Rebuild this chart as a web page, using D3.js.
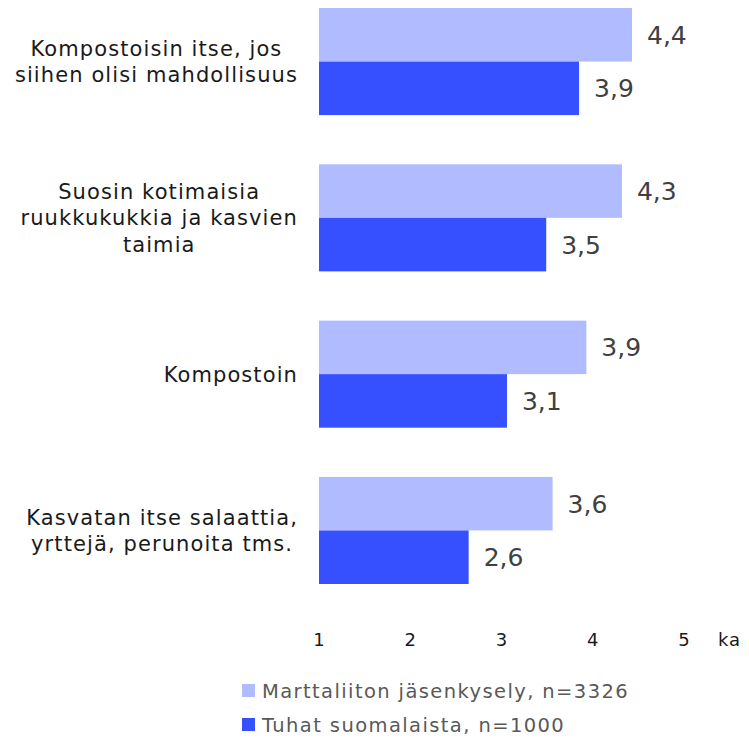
<!DOCTYPE html>
<html>
<head>
<meta charset="utf-8">
<script src="https://cdn.jsdelivr.net/npm/d3@7"></script>
<style>
  body { margin: 0; background: #fff; }
  text { font-family: "DejaVu Sans", sans-serif; }
</style>
</head>
<body>
<div id="chart"></div>
<script>
const categories = [
  ["Kompostoisin itse, jos", "siihen olisi mahdollisuus"],
  ["Suosin kotimaisia", "ruukkukukkia ja kasvien", "taimia"],
  ["Kompostoin"],
  ["Kasvatan itse salaattia,", "yrttejä, perunoita tms."]
];
const seriesNames = ["Marttaliiton jäsenkysely, n=3326", "Tuhat suomalaista, n=1000"];
const marttaliitto = [4.43, 4.32, 3.93, 3.56];
const tuhat = [3.85, 3.49, 3.06, 2.64];
const ticks = [1, 2, 3, 4, 5];
const colors = ["#b0bcff", "#3750ff"];

const width = 749, height = 738;
const svg = d3.select("#chart").append("svg")
  .attr("width", width)
  .attr("height", height);

const x = d3.scaleLinear().domain([1, 5]).range([319, 684]);
const y = d3.scaleBand().domain(d3.range(categories.length)).range([8, 584]).paddingInner(0.315);
const ySub = d3.scaleBand().domain([0, 1]).range([0, y.bandwidth()]);

const fmt = v => (Math.round(v * 10) / 10).toFixed(1).replace(".", ",");

const rows = categories.map((c, i) => ({ i, vals: [marttaliitto[i], tuhat[i]] }));

const groups = svg.selectAll("g.grp")
  .data(rows)
  .enter().append("g")
  .attr("transform", d => `translate(0,${y(d.i)})`);

groups.selectAll("rect")
  .data(d => d.vals.map((v, s) => ({ v, s })))
  .enter().append("rect")
  .attr("x", x(1))
  .attr("y", d => ySub(d.s))
  .attr("width", d => x(d.v) - x(1))
  .attr("height", ySub.bandwidth())
  .attr("fill", d => colors[d.s]);

groups.selectAll("text.val")
  .data(d => d.vals.map((v, s) => ({ v, s })))
  .enter().append("text")
  .attr("class", "val")
  .attr("x", d => x(d.v) + 15)
  .attr("y", d => ySub(d.s) + ySub.bandwidth() / 2)
  .attr("dy", "0.36em")
  .attr("font-size", 25)
  .attr("fill", "#404040")
  .text(d => fmt(d.v));

// category labels: lines centred in a block that is right-aligned
const labelRight = 298, lineH = 26.7;
categories.forEach((lines, i) => {
  const cy = y(i) + y.bandwidth() / 2;
  const t = svg.append("text")
    .attr("font-size", 21)
    .attr("letter-spacing", 1.1)
    .attr("fill", "#1a1a1a")
    .attr("text-anchor", "middle");
  const spans = lines.map((l, k) => t.append("tspan")
    .attr("y", cy + (k - (lines.length - 1) / 2) * lineH)
    .attr("dy", "0.36em")
    .text(l));
  const maxW = d3.max(spans, s => s.node().getComputedTextLength());
  spans.forEach(s => s.attr("x", labelRight - maxW / 2));
});

// x axis tick labels
svg.selectAll("text.tick")
  .data(ticks)
  .enter().append("text")
  .attr("x", d => x(d))
  .attr("y", 640)
  .attr("dy", "0.36em")
  .attr("text-anchor", "middle")
  .attr("font-size", 18)
  .attr("fill", "#1a1a1a")
  .text(d => d);

svg.append("text")
  .attr("x", x(5) + 34)
  .attr("y", 640)
  .attr("dy", "0.36em")
  .attr("font-size", 18)
  .attr("letter-spacing", 1)
  .attr("fill", "#1a1a1a")
  .text("ka");

// legend
const legend = svg.selectAll("g.leg")
  .data(seriesNames)
  .enter().append("g")
  .attr("transform", (d, i) => `translate(242,${691 + i * 34})`);

legend.append("rect")
  .attr("x", 0)
  .attr("y", -7)
  .attr("width", 13)
  .attr("height", 13)
  .attr("fill", (d, i) => colors[i]);

legend.append("text")
  .attr("x", 20)
  .attr("y", 0)
  .attr("dy", "0.36em")
  .attr("font-size", 19.5)
  .attr("letter-spacing", 1.4)
  .attr("fill", "#595959")
  .text(d => d);
</script>
</body>
</html>
